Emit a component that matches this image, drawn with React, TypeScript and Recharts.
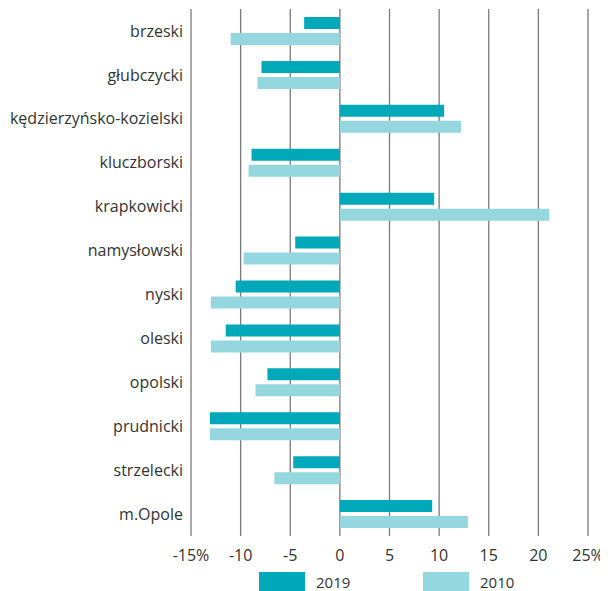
import { BarChart, Bar, XAxis, YAxis, CartesianGrid, Legend } from "recharts"

const districts = [
  "brzeski",
  "głubczycki",
  "kędzierzyńsko-kozielski",
  "kluczborski",
  "krapkowicki",
  "namysłowski",
  "nyski",
  "oleski",
  "opolski",
  "prudnicki",
  "strzelecki",
  "m.Opole",
]

const values2019 = [-3.6, -7.9, 10.5, -8.9, 9.5, -4.5, -10.5, -11.5, -7.3, -13.1, -4.7, 9.3]
const values2010 = [-11.0, -8.3, 12.2, -9.2, 21.1, -9.7, -13.0, -13.0, -8.5, -13.1, -6.6, 12.9]

const xTicks = [-15, -10, -5, 0, 5, 10, 15, 20, 25]

const chartData = districts.map((name, i) => ({
  name,
  y2019: values2019[i],
  y2010: values2010[i],
}))

const DARK = "#00a9b9"
const LIGHT = "#94d7df"
const FONT = "'Open Sans', sans-serif"

const formatTick = (v: number) => (v === -15 || v === 25 ? `${v}%` : `${v}`)

const LegendBox = () => (
  <div style={{ position: "relative", height: 19, fontFamily: FONT, fontSize: 15, color: "#333" }}>
    <div style={{ position: "absolute", left: 259, top: 0, width: 46, height: 19, background: DARK }} />
    <span style={{ position: "absolute", left: 316, top: 0, lineHeight: "21px" }}>2019</span>
    <div style={{ position: "absolute", left: 423, top: 0, width: 46, height: 19, background: LIGHT }} />
    <span style={{ position: "absolute", left: 480, top: 0, lineHeight: "21px" }}>2010</span>
  </div>
)

export default function App() {
  return (
    <div style={{ margin: "-8px 0 0 -8px", width: 608, height: 591 }}>
      <BarChart
        width={608}
        height={591}
        data={chartData}
        layout="vertical"
        margin={{ top: 9, right: 20, bottom: 6, left: 0 }}
        barSize={12}
        barGap={4}
      >
        <CartesianGrid horizontal={false} stroke="#7a7a7a" strokeWidth={1.3} />
        <XAxis
          type="number"
          domain={[-15, 25]}
          ticks={xTicks}
          tickFormatter={formatTick}
          axisLine={false}
          tickLine={false}
          tickMargin={8}
          height={30}
          interval={0}
          tick={{ fill: "#333", fontSize: 16, fontFamily: FONT }}
        />
        <YAxis
          type="category"
          dataKey="name"
          width={191}
          axisLine={false}
          tickLine={false}
          interval={0}
          tick={{ fill: "#333", fontSize: 16, fontFamily: FONT }}
        />
        <Legend
          verticalAlign="bottom"
          content={<LegendBox />}
          wrapperStyle={{ left: 0, bottom: 0, width: 608 }}
        />
        <Bar dataKey="y2019" name="2019" fill={DARK} isAnimationActive={false} />
        <Bar dataKey="y2010" name="2010" fill={LIGHT} isAnimationActive={false} />
      </BarChart>
    </div>
  )
}
